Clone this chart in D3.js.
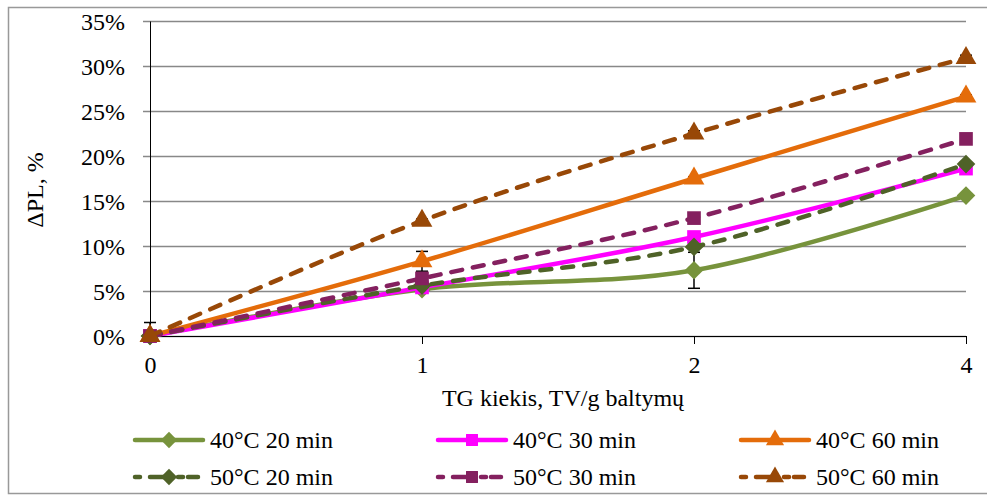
<!DOCTYPE html>
<html>
<head>
<meta charset="utf-8">
<script src="https://cdn.jsdelivr.net/npm/d3@7"></script>
<style>
  body { margin: 0; background: #fff; }
  svg text { font-family: "Liberation Serif", "DejaVu Serif", serif; fill: #000; }
</style>
</head>
<body>
<svg id="chart"></svg>
<script>
// categories on x axis (TV/g)
const categories = ["0", "1", "2", "4"];
const yTicks = [0, 5, 10, 15, 20, 25, 30, 35];

const seriesNames = ["40°C 20 min", "40°C 30 min", "40°C 60 min", "50°C 20 min", "50°C 30 min", "50°C 60 min"];
const v40_20 = [0, 5.2, 7.3, 15.6];
const v40_30 = [0, 5.4, 11.0, 18.6];
const v40_60 = [0, 8.3, 17.5, 26.6];
const v50_20 = [0, 5.6, 9.9, 19.1];
const v50_30 = [0, 6.4, 13.1, 21.9];
const v50_60 = [0, 12.8, 22.5, 30.9];
// error bar half widths
const e40_20 = [0, 0, 2.0, 0];
const e40_30 = [0, 0, 0, 0];
const e40_60 = [0, 1.1, 0.2, 0.2];
const e50_20 = [0, 0, 0, 0];
const e50_30 = [0, 0, 0, 0];
const e50_60 = [1.5, 0.2, 0.3, 0.3];

const width = 987;
const height = 497;

const series = [
  { name: seriesNames[0], vals: v40_20, err: e40_20, color: "#77933C", dash: false, marker: "diamond" },
  { name: seriesNames[1], vals: v40_30, err: e40_30, color: "#FF00FF", dash: false, marker: "square" },
  { name: seriesNames[2], vals: v40_60, err: e40_60, color: "#E46C0A", dash: false, marker: "triangle" },
  { name: seriesNames[3], vals: v50_20, err: e50_20, color: "#4F6228", dash: true, marker: "diamond" },
  { name: seriesNames[4], vals: v50_30, err: e50_30, color: "#84205F", dash: true, marker: "square" },
  { name: seriesNames[5], vals: v50_60, err: e50_60, color: "#984807", dash: true, marker: "triangle" }
];

const svg = d3.select("#chart").attr("width", width).attr("height", height);

// outer frame
svg.append("rect")
  .attr("x", 8.5).attr("y", 7.5)
  .attr("width", 990).attr("height", 486)
  .attr("fill", "none").attr("stroke", "#999").attr("stroke-width", 1.5);

const xScale = d3.scalePoint().domain(categories).range([150, 966]);
const yScale = d3.scaleLinear().domain([0, 35]).range([336, 21]);

// gridlines
const gy = svg.append("g").attr("transform", "translate(966,0)");
gy.call(d3.axisLeft(yScale).tickValues(yTicks).tickSize(966 - 143).tickFormat(""));
gy.select(".domain").remove();
gy.selectAll(".tick line").attr("stroke", "#888").attr("stroke-width", 1.5);

// y axis
const gyl = svg.append("g").attr("transform", "translate(150,0)");
gyl.call(d3.axisLeft(yScale).tickValues(yTicks).tickSize(0).tickPadding(25).tickFormat(d => d + "%"));
gyl.select(".domain").attr("stroke", "#000").attr("stroke-width", 1);
gyl.selectAll(".tick text").attr("font-size", 24).attr("dy", "0.34em");

// x axis
const gx = svg.append("g").attr("transform", "translate(0,336)");
gx.call(d3.axisBottom(xScale).tickSize(8).tickSizeOuter(0).tickPadding(12));
gx.select(".domain").attr("stroke", "#000");
gx.selectAll(".tick line").attr("stroke", "#000");
gx.selectAll(".tick text").attr("font-size", 24);

// axis titles
svg.append("text")
  .attr("x", 563).attr("y", 406)
  .attr("text-anchor", "middle").attr("font-size", 24)
  .text("TG kiekis, TV/g baltymų");
svg.append("text")
  .attr("transform", "translate(43,190) rotate(-90)")
  .attr("text-anchor", "middle").attr("font-size", 24)
  .text("ΔPL, %");

const symbolFor = (m, size) => {
  if (m === "diamond") return d3.symbol().type(d3.symbolDiamond2 || d3.symbolDiamond).size(size * 1.3)();
  if (m === "square") return d3.symbol().type(d3.symbolSquare).size(size * 1.1)();
  return d3.symbol().type(d3.symbolTriangle).size(size * 1.1)();
};

const line = d3.line()
  .x((d, i) => xScale(categories[i]))
  .y(d => yScale(d))
  .curve(d3.curveCatmullRom.alpha(0));

const plot = svg.append("g");

// error bars (clipped at the axis like the source chart)
series.forEach(s => {
  s.err.forEach((e, i) => {
    if (!e) return;
    const x = xScale(categories[i]);
    const lo = s.vals[i] - e;
    const y1 = yScale(Math.max(0, lo));
    const y2 = yScale(s.vals[i] + e);
    const g = plot.append("g").attr("stroke", "#000").attr("stroke-width", 1.5);
    g.append("line").attr("x1", x).attr("x2", x).attr("y1", y1).attr("y2", y2);
    if (lo >= 0) g.append("line").attr("x1", x - 6).attr("x2", x + 6).attr("y1", y1).attr("y2", y1);
    g.append("line").attr("x1", x - 6).attr("x2", x + 6).attr("y1", y2).attr("y2", y2);
  });
});

series.forEach(s => {
  plot.append("path")
    .datum(s.vals)
    .attr("d", line)
    .attr("fill", "none")
    .attr("stroke", s.color)
    .attr("stroke-width", 4.5)
    .attr("stroke-dasharray", s.dash ? "11,11" : null)
    .attr("stroke-linecap", s.dash ? "round" : "butt");
  plot.selectAll(null)
    .data(s.vals)
    .enter()
    .append("path")
    .attr("d", symbolFor(s.marker, 170))
    .attr("transform", (d, i) => "translate(" + xScale(categories[i]) + "," + yScale(d) + ")")
    .attr("fill", s.color);
});

// legend
const legendX = [135, 438, 741];
const legendY = [440, 477];
series.forEach((s, i) => {
  const lx = legendX[i % 3];
  const ly = legendY[Math.floor(i / 3)];
  const g = svg.append("g").attr("transform", "translate(" + lx + "," + ly + ")");
  g.append("line")
    .attr("x1", 0).attr("x2", 68).attr("y1", 0).attr("y2", 0)
    .attr("stroke", s.color).attr("stroke-width", 4.5)
    .attr("stroke-linecap", "round")
    .attr("stroke-dasharray", s.dash ? "5,10,18,10,5" : null);
  g.append("path")
    .attr("d", symbolFor(s.marker, 130))
    .attr("transform", "translate(34,0)")
    .attr("fill", s.color);
  g.append("text")
    .attr("x", 75).attr("y", 8)
    .attr("font-size", 23)
    .attr("textLength", 123)
    .attr("lengthAdjust", "spacingAndGlyphs")
    .text(s.name);
});
</script>
</body>
</html>
